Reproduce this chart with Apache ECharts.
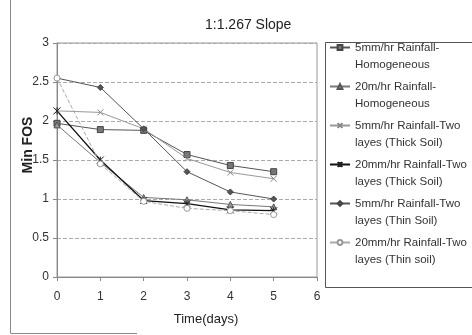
<!DOCTYPE html>
<html>
<head>
<meta charset="utf-8">
<script src="https://cdn.jsdelivr.net/npm/echarts@6/dist/echarts.min.js"></script>
<style>
html,body{margin:0;padding:0;background:#fff;}
#chart{width:472px;height:335px;}
</style>
</head>
<body>
<div id="chart"></div>
<script>
const titleText = "1:1.267 Slope";
const xTicks = [0, 1, 2, 3, 4, 5, 6];
const days = [0, 1, 2, 3, 4, 5];
const seriesNames = [
  "5mm/hr Rainfall-\nHomogeneous",
  "20m/hr Rainfall-\nHomogeneous",
  "5mm/hr Rainfall-Two\nlayes (Thick Soil)",
  "20mm/hr Rainfall-Two\nlayes (Thick Soil)",
  "5mm/hr Rainfall-Two\nlayes (Thin Soil)",
  "20mm/hr Rainfall-Two\nlayes (Thin soil)"
];
const fos5Homog   = [1.97, 1.89, 1.88, 1.57, 1.43, 1.35];
const fos20Homog  = [1.95, 1.47, 1.02, 0.99, 0.93, 0.90];
const fos5Thick   = [2.13, 2.11, 1.90, 1.52, 1.34, 1.26];
const fos20Thick  = [2.13, 1.50, 0.98, 0.94, 0.86, 0.85];
const fos5Thin    = [2.55, 2.43, 1.90, 1.35, 1.09, 1.00];
const fos20Thin   = [2.55, 1.45, 0.97, 0.88, 0.85, 0.80];

const seriesValues = [fos5Homog, fos20Homog, fos5Thick, fos20Thick, fos5Thin, fos20Thin];
const styles = [
  {line:'#555', type:'solid', width:1, symbol:'rect', size:6, fill:'#777', border:'#444', bw:1},
  {line:'#777', type:'solid', width:1, symbol:'triangle', size:6, fill:'#999', border:'#555', bw:1},
  {line:'#999', type:'solid', width:1, symbol:'path://M0,0L10,10M10,0L0,10', size:6, fill:'none', border:'#888', bw:1},
  {line:'#111', type:'solid', width:1.3, symbol:'path://M0,0L10,10M10,0L0,10M5,0L5,10', size:7, fill:'none', border:'#222', bw:1},
  {line:'#555', type:'solid', width:1, symbol:'diamond', size:6, fill:'#555', border:'#444', bw:1},
  {line:'#aaa', type:'dashed', width:1, symbol:'circle', size:6, fill:'#fff', border:'#999', bw:1}
];

const chart = echarts.init(document.getElementById('chart'), null, {renderer:'canvas'});
const font = 'Liberation Sans, Arial, sans-serif';

const series = seriesValues.map((vals, i) => {
  const s = styles[i];
  return {
    name: seriesNames[i],
    type: 'line',
    data: days.map((d, j) => [d, vals[j]]),
    symbol: s.symbol,
    symbolSize: s.size,
    showSymbol: true,
    lineStyle: {color: s.line, width: s.width, type: s.type},
    itemStyle: {color: s.fill === 'none' ? 'rgba(0,0,0,0)' : s.fill, borderColor: s.border, borderWidth: s.bw},
    emphasis: {disabled: true},
    animation: false
  };
});

chart.setOption({
  animation: false,
  backgroundColor: '#fff',
  title: {
    text: titleText,
    left: 200, top: 13,
    textStyle: {fontFamily: font, fontSize: 14, fontWeight: 'normal', color: '#222'}
  },
  grid: {
    left: 57, right: 155, top: 43, bottom: 58,
    show: true, borderColor: '#999', borderWidth: 1
  },
  legend: {
    orient: 'vertical',
    left: 329, top: 22,
    padding: 0,
    itemWidth: 20, itemHeight: 6, itemGap: -12,
    data: seriesNames,
    formatter: function (name) { return '\n' + name; },
    textStyle: {fontFamily: font, fontSize: 11.5, color: '#333', lineHeight: 17}
  },
  xAxis: {
    type: 'value', min: 0, max: 6, interval: 1,
    name: 'Time(days)', nameLocation: 'middle', nameGap: 36,
    nameTextStyle: {fontFamily: font, fontSize: 13, color: '#222', padding: [0, 0, 0, 38]},
    axisLine: {lineStyle: {color: '#888'}},
    axisTick: {show: true, length: 4, lineStyle: {color: '#888'}},
    axisLabel: {fontFamily: font, fontSize: 12, color: '#333', margin: 14},
    splitLine: {show: false}
  },
  yAxis: {
    type: 'value', min: 0, max: 3, interval: 0.5,
    name: 'Min FOS', nameLocation: 'middle', nameGap: 22, nameRotate: 90,
    nameMoveOverlap: false,
    nameTextStyle: {fontFamily: font, fontSize: 14, fontWeight: 'bold', color: '#222', padding: [0, 0, 0, 30]},
    axisLine: {show: true, lineStyle: {color: '#888'}},
    axisTick: {show: true, length: 4, lineStyle: {color: '#888'}},
    axisLabel: {fontFamily: font, fontSize: 12, color: '#333', margin: 8},
    splitLine: {show: true, lineStyle: {color: '#aaa', type: 'dashed', width: 1}}
  },
  graphic: [
    {type: 'rect', shape: {x: 325.5, y: 42.5, width: 160, height: 245}, style: {fill: 'none', stroke: '#555', lineWidth: 1}, silent: true},
    {type: 'line', shape: {x1: 10.5, y1: 0, x2: 10.5, y2: 333}, style: {stroke: '#888', lineWidth: 1}, silent: true},
    {type: 'line', shape: {x1: 10.5, y1: 333.5, x2: 137, y2: 333.5}, style: {stroke: '#888', lineWidth: 1}, silent: true}
  ],
  series: series
});
</script>
</body>
</html>
